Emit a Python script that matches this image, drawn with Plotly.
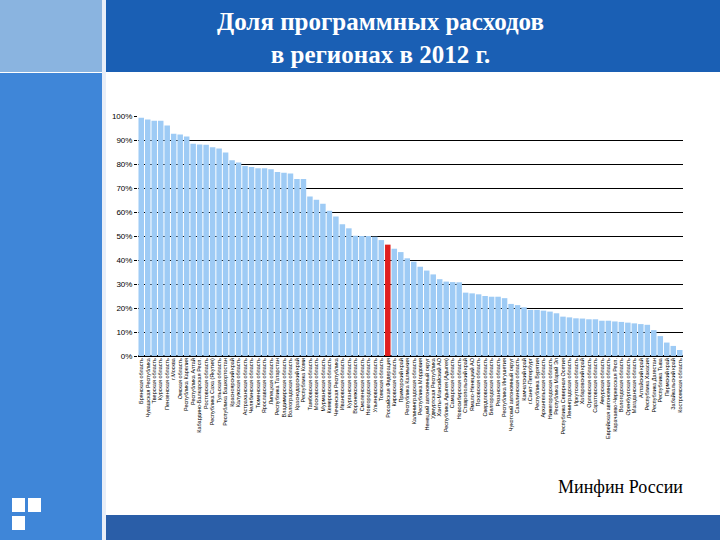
import plotly.graph_objects as go

regions = ["Брянская область","Чувашская Республика","Тверская область","Курская область","Пензенская область",
"г.Москва","Омская область","Республика Карелия","Республика Алтай","Кабардино-Балкарская Респ.",
"Ростовская область","Республика Саха (Якутия)","Тульская область","Республика Башкортостан","Красноярский край",
"Калужская область","Астраханская область","Челябинская область","Тюменская область","Ярославская область",
"Липецкая область","Республика Татарстан","Владимирская область","Волгоградская область","Краснодарский край",
"Республика Коми","Тамбовская область","Московская область","Мурманская область","Кемеровская область",
"Чеченская Республика","Ивановская область","Курганская область","Воронежская область","Смоленская область",
"Новгородская область","Ульяновская область","Томская область","Российская Федерация","Кировская область",
"Приморский край","Республика Калмыкия","Калининградская область","Республика Мордовия","Ненецкий автономный округ",
"Удмуртская Республика","Ханты-Мансийский АО","Республика Адыгея (Адыгея)","Самарская область","Новосибирская область",
"Ставропольский край","Ямало-Ненецкий АО","Псковская область","Свердловская область","Белгородская область",
"Рязанская область","Республика Ингушетия","Чукотский автономный округ","Сахалинская область","Камчатский край",
"г.Санкт-Петербург","Республика Бурятия","Архангельская область","Нижегородская область","Республика Марий Эл",
"Республика Северная Осетия","Ленинградская область","Иркутская область","Хабаровский край","Орловская область",
"Саратовская область","Амурская область","Еврейская автономная область","Карачаево-Черкесская Респ.","Вологодская область",
"Оренбургская область","Магаданская область","Алтайский край","Республика Хакасия","Республика Дагестан",
"Республика Тыва","Пермский край","Забайкальский край","Костромская область"]

shares = [99.3,98.5,98,98,96,92.6,92.3,91.5,88.4,88.1,
88,87,86.5,84.8,81.6,80.6,79.2,78.8,78.2,78.2,
77.8,76.7,76.4,76,73.8,73.8,66.5,65.1,63.4,60.5,
58.1,54.9,53.2,50.1,50,50,49.7,48.3,46.4,44.7,
43.3,40.7,39.3,37.2,35.6,34,32,31,30.8,30.7,
26.4,26.1,25.7,25,24.7,24.7,24.1,21.7,21.2,20.3,
19.2,19.2,18.9,18.5,17.8,16.4,16.1,15.7,15.6,15.3,
15.3,14.7,14.7,14.4,14.2,13.9,13.6,13.3,13,10.8,
8.3,5.6,4.2,2.5]

highlight = "Российская Федерация"
colors = ["#e02020" if r == highlight else "#9ecbf5" for r in regions]

fig = go.Figure(go.Bar(x=regions, y=shares, marker=dict(color=colors, line=dict(width=0)), width=0.85))

L, R, T, B = 138, 683, 116, 356
W, H = 720, 540
def px(X): return (X - L) / (R - L)
def py(Y): return (B - Y) / (B - T)

shapes = [
    dict(type="rect", xref="paper", yref="paper", x0=px(0), x1=px(102), y0=py(72), y1=py(0), fillcolor="#8ab4e0", line_width=0, layer="below"),
    dict(type="rect", xref="paper", yref="paper", x0=px(0), x1=px(102), y0=py(540), y1=py(73), fillcolor="#3f86d8", line_width=0, layer="below"),
    dict(type="rect", xref="paper", yref="paper", x0=px(106), x1=px(720), y0=py(72), y1=py(0), fillcolor="#1a5fb4", line_width=0, layer="below"),
    dict(type="rect", xref="paper", yref="paper", x0=px(106), x1=px(720), y0=py(540), y1=py(515), fillcolor="#2a5ea8", line_width=0, layer="below"),
    dict(type="rect", xref="paper", yref="paper", x0=px(102), x1=px(106), y0=py(540), y1=py(0), fillcolor="#e8eef8", line_width=0, layer="below"),
    dict(type="rect", xref="paper", yref="paper", x0=px(12), x1=px(25), y0=py(512), y1=py(498), fillcolor="white", line_width=0),
    dict(type="rect", xref="paper", yref="paper", x0=px(28), x1=px(41), y0=py(512), y1=py(498), fillcolor="white", line_width=0),
    dict(type="rect", xref="paper", yref="paper", x0=px(12), x1=px(25), y0=py(530), y1=py(516), fillcolor="white", line_width=0),
]

fig.update_layout(
    width=W, height=H, margin=dict(l=L, r=W - R, t=T, b=H - B),
    paper_bgcolor="white", plot_bgcolor="white", showlegend=False, bargap=0.15,
    shapes=shapes,
    annotations=[
        dict(text="<b>Доля программных расходов<br>в регионах в 2012 г.</b>", xref="paper", yref="paper",
             x=px(380), y=py(38), showarrow=False, font=dict(family="Liberation Serif", size=25, color="white"),
             xanchor="center", yanchor="middle"),
        dict(text="Минфин России", xref="paper", yref="paper", x=px(620), y=py(487), showarrow=False,
             font=dict(family="Liberation Serif", size=18, color="black"), xanchor="center", yanchor="middle"),
    ],
    xaxis=dict(tickangle=-90, tickfont=dict(family="Liberation Sans", size=5.5, color="black"),
               showline=False, ticks="", tickmode="linear", dtick=1, tick0=0,
               range=[-0.5, len(regions) - 0.5]),
    yaxis=dict(range=[0, 100], dtick=10, ticksuffix="%", showgrid=True, gridcolor="black", gridwidth=1,
               tickfont=dict(family="Liberation Sans", size=8, color="black"), zeroline=True, zerolinecolor="black",
               ticks="outside", ticklen=3, tickcolor="black"),
)

fig.write_html("out.html", config={"displayModeBar": False},
               post_script="document.body.style.margin='0';document.body.style.overflow='hidden';")
